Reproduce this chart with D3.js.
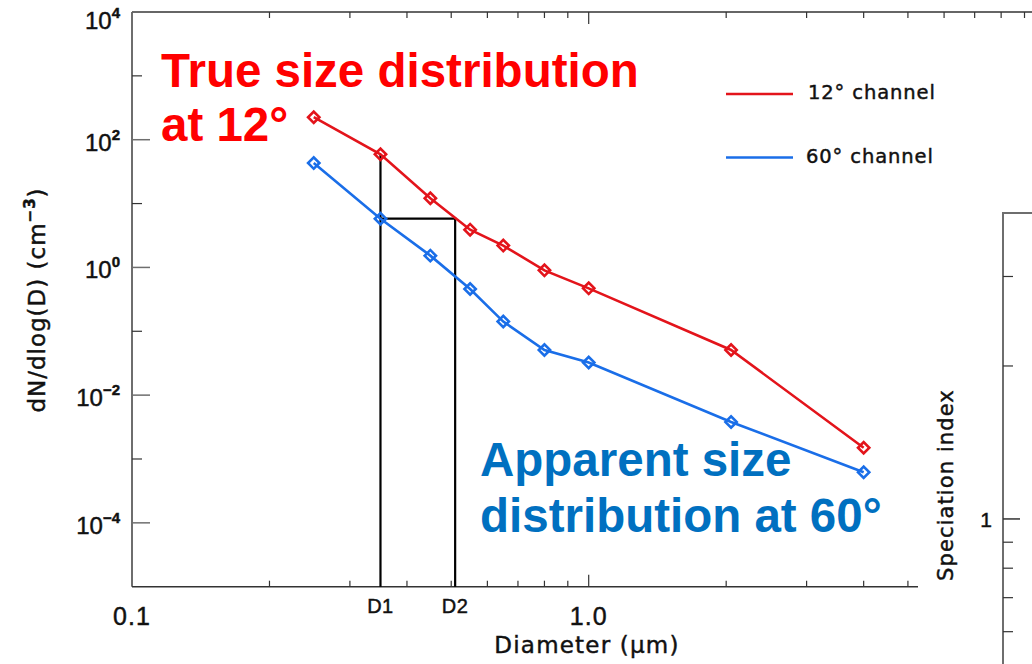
<!DOCTYPE html>
<html>
<head>
<meta charset="utf-8">
<script src="https://cdn.jsdelivr.net/npm/d3@7/dist/d3.min.js"></script>
<style>
  body { margin: 0; background: #fff; }
  svg text { font-family: "Liberation Sans", Arial, sans-serif; }
  .lbl { font-family: "DejaVu Sans", sans-serif !important; }
  .ink { stroke: #111; stroke-width: 0.45px; }
</style>
</head>
<body>
<div id="sizechart"></div>
<script>
// Size distribution (diameter in um, dN/dlog(D) in cm^-3)
var diameters = [0.25, 0.35, 0.45, 0.55, 0.65, 0.8, 1.0, 2.05, 4.0];
var channel12 = [225, 59, 12.1, 3.9, 2.2, 0.9, 0.47, 0.051, 0.0015];
var channel60 = [43, 5.8, 1.53, 0.46, 0.142, 0.051, 0.0325, 0.0038, 0.00062];
var d1 = 0.35, d2 = 0.51;

var yMajorTicks = [1e-4, 1e-2, 1, 1e2, 1e4];
var yMajorExps = ["\u22124", "\u22122", "0", "2", "4"];
var yMinorTicks = [1e-3, 1e-1, 1e1, 1e3];
var xLabelTicks = [0.1, 1.0];
var xLabelText = ["0.1", "1.0"];
var xMinorTicks = [0.2, 0.3, 0.4, 0.5, 0.6, 0.7, 0.8, 0.9, 2, 3, 4, 5, 6, 7, 8, 9];
var speciationTicks = [0.6, 0.7, 0.8, 0.9, 2, 3];

var legendNames = ["12\u00b0 channel", "60\u00b0 channel"];
var colors = ["#e3141b", "#1a6ee8"];

renderChart();

function renderChart() {
  var width = 1032;
  var height = 664;
  var axisColor = "#6e6e6e";

  var svg = d3.select("#sizechart")
    .append("svg")
      .attr("width", width)
      .attr("height", height);

  var x = d3.scaleLog().domain([0.1, 10]).range([132, 1045.4]);
  var y = d3.scaleLog().domain([1e-5, 1e4]).range([586.7, 12]);

  // frame: left, top, bottom
  svg.append("line").attr("x1", x(0.1)).attr("x2", x(0.1)).attr("y1", y(1e4)).attr("y2", y(1e-5))
    .attr("stroke", axisColor).attr("stroke-width", 2);
  svg.append("line").attr("x1", x(0.1)).attr("x2", width).attr("y1", y(1e4)).attr("y2", y(1e4))
    .attr("stroke", "#333").attr("stroke-width", 1.5);
  svg.append("line").attr("x1", x(0.1)).attr("x2", width).attr("y1", y(1e-5)).attr("y2", y(1e-5))
    .attr("stroke", "#333").attr("stroke-width", 1.5);

  // y ticks (inward)
  svg.selectAll("line.ymaj").data(yMajorTicks).enter().append("line")
    .attr("x1", x(0.1)).attr("x2", x(0.1) + 18)
    .attr("y1", function(d) { return y(d); }).attr("y2", function(d) { return y(d); })
    .attr("stroke", axisColor).attr("stroke-width", 1.5);
  svg.selectAll("line.ymin").data(yMinorTicks).enter().append("line")
    .attr("x1", x(0.1)).attr("x2", x(0.1) + 10)
    .attr("y1", function(d) { return y(d); }).attr("y2", function(d) { return y(d); })
    .attr("stroke", "#333").attr("stroke-width", 1.2);

  // the top label sits lower so that it stays inside the picture
  var ylab = svg.selectAll("text.ytick").data(yMajorTicks).enter().append("text")
    .attr("class", "ink")
    .attr("text-anchor", "end")
    .attr("x", 120)
    .attr("y", function(d) { return d == 1e4 ? y(d) + 17 : y(d) + 11; })
    .style("font-size", "24px")
    .style("fill", "#111");
  ylab.append("tspan").text("10");
  ylab.append("tspan")
    .attr("dy", -11)
    .style("font-size", "15px")
    .style("font-weight", "bold")
    .text(function(d, i) { return yMajorExps[i]; });

  // x ticks on bottom and top (inward)
  [y(1e-5), y(1e4)].forEach(function(yy, k) {
    var dir = k == 0 ? -1 : 1;
    svg.selectAll("line.xmin" + k).data(xMinorTicks).enter().append("line")
      .attr("x1", function(d) { return x(d); }).attr("x2", function(d) { return x(d); })
      .attr("y1", yy).attr("y2", yy + dir * 6)
      .attr("stroke", "#333").attr("stroke-width", 1.2);
    svg.selectAll("line.xmaj" + k).data([1.0]).enter().append("line")
      .attr("x1", function(d) { return x(d); }).attr("x2", function(d) { return x(d); })
      .attr("y1", yy).attr("y2", yy + dir * 12)
      .attr("stroke", "#333").attr("stroke-width", 1.2);
  });

  svg.selectAll("text.xtick").data(xLabelTicks).enter().append("text")
    .attr("class", "ink")
    .attr("text-anchor", "middle")
    .attr("x", function(d) { return x(d); })
    .attr("y", 625)
    .style("font-size", "25px")
    .style("letter-spacing", "1px")
    .style("fill", "#111")
    .text(function(d, i) { return xLabelText[i]; });

  svg.selectAll("text.dlab").data([d1, d2]).enter().append("text")
    .attr("class", "ink")
    .attr("text-anchor", "middle")
    .attr("x", function(d) { return x(d); })
    .attr("y", 613)
    .style("font-size", "20px")
    .style("letter-spacing", "0.5px")
    .style("fill", "#111")
    .text(function(d, i) { return "D" + (i + 1); });

  // axis titles
  svg.append("text").attr("class", "lbl ink")
    .attr("text-anchor", "middle")
    .attr("x", 587).attr("y", 653)
    .style("font-size", "23px")
    .style("letter-spacing", "1.2px")
    .style("fill", "#111")
    .text("Diameter (\u03bcm)");

  var yt = svg.append("text").attr("class", "lbl ink")
    .attr("text-anchor", "middle")
    .attr("transform", "translate(45,300) rotate(-90)")
    .style("font-size", "23px")
    .style("letter-spacing", "1px")
    .style("fill", "#111");
  yt.append("tspan").text("dN/dlog(D) (cm");
  yt.append("tspan").attr("dy", -10).style("font-size", "15px").style("font-weight", "bold").text("\u22123");
  yt.append("tspan").attr("dy", 10).text(")");

  // D1 / D2 box
  var box = d3.path();
  box.moveTo(x(d1), y(channel12[1]));
  box.lineTo(x(d1), y(1e-5));
  box.moveTo(x(d1), y(channel60[1]));
  box.lineTo(x(d2), y(channel60[1]));
  box.lineTo(x(d2), y(1e-5));
  svg.append("path").attr("d", box.toString())
    .style("fill", "none").style("stroke", "#000").style("stroke-width", 2.2);

  // series
  var line = d3.line()
    .x(function(d) { return x(d[0]); })
    .y(function(d) { return y(d[1]); });

  [channel12, channel60].forEach(function(vals, k) {
    var pts = diameters.map(function(dd, i) { return [dd, vals[i]]; });
    svg.append("path").datum(pts)
      .attr("d", line)
      .style("fill", "none").style("stroke", colors[k]).style("stroke-width", 2.6);
    svg.selectAll("path.mk" + k).data(pts).enter().append("path")
      .attr("d", d3.symbol().type(d3.symbolSquare).size(64))
      .attr("transform", function(d) { return "translate(" + x(d[0]) + "," + y(d[1]) + ") rotate(45)"; })
      .style("fill", "none").style("stroke", colors[k]).style("stroke-width", 2.6);
  });

  // legend
  svg.selectAll("line.leg").data(legendNames).enter().append("line")
    .attr("x1", 726).attr("x2", 793)
    .attr("y1", function(d, i) { return 94 + i * 63.5; })
    .attr("y2", function(d, i) { return 94 + i * 63.5; })
    .attr("stroke", function(d, i) { return colors[i]; })
    .attr("stroke-width", 2.6);
  svg.selectAll("text.leg").data(legendNames).enter().append("text").attr("class", "lbl ink")
    .attr("x", function(d, i) { return i == 0 ? 808 : 806; })
    .attr("y", function(d, i) { return 99 + i * 63.5; })
    .style("font-size", "19.5px")
    .style("letter-spacing", "0.9px")
    .style("fill", "#111")
    .text(function(d) { return d; });

  // annotations
  var notes = [
    { t: "True size distribution", x: 161, y: 87, c: "#ff0000" },
    { t: "at 12\u00b0", x: 161, y: 141, c: "#ff0000" },
    { t: "Apparent size", x: 480, y: 476, c: "#0070c0" },
    { t: "distribution at 60\u00b0", x: 480, y: 532, c: "#0070c0" }
  ];
  svg.selectAll("text.note").data(notes).enter().append("text")
    .attr("x", function(d) { return d.x; })
    .attr("y", function(d) { return d.y; })
    .style("font-size", "47.5px")
    .style("font-weight", "bold")
    .style("fill", function(d) { return d.c; })
    .text(function(d) { return d.t; });

  // partial second panel on the right, over the first one
  svg.append("rect").attr("x", 918).attr("y", 175).attr("width", width - 918).attr("height", height - 175)
    .style("fill", "#fff");

  var s = d3.scaleLog().domain([0.5, 4]).range([519 + 508 * Math.log10(2), 213]);
  svg.append("path")
    .attr("d", "M1003," + (height + 2) + "V" + s(4) + "H" + (width + 2))
    .style("fill", "none").style("stroke", axisColor).style("stroke-width", 2);
  svg.selectAll("line.sp").data(speciationTicks).enter().append("line")
    .attr("x1", 1003).attr("x2", 1013)
    .attr("y1", function(d) { return s(d); }).attr("y2", function(d) { return s(d); })
    .attr("stroke", "#333").attr("stroke-width", 1.2);
  svg.append("line")
    .attr("x1", 1003).attr("x2", 1020)
    .attr("y1", s(1)).attr("y2", s(1))
    .attr("stroke", "#333").attr("stroke-width", 1.5);
  svg.append("text").attr("class", "ink")
    .attr("text-anchor", "middle")
    .attr("x", 986).attr("y", s(1) + 8)
    .style("font-size", "21px")
    .style("fill", "#111")
    .text("1");
  svg.append("text").attr("class", "lbl ink")
    .attr("text-anchor", "middle")
    .attr("transform", "translate(953,485) rotate(-90)")
    .style("font-size", "21px")
    .style("letter-spacing", "1.1px")
    .style("fill", "#111")
    .text("Speciation index");
}
</script>
</body>
</html>
